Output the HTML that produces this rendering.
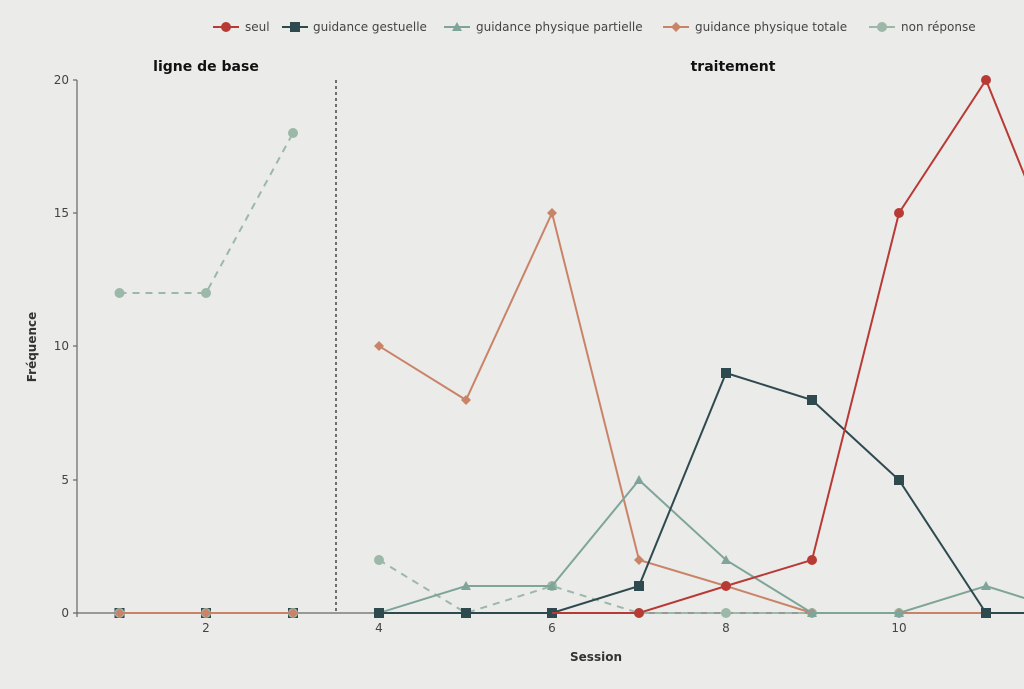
<!DOCTYPE html>
<html><head><meta charset="utf-8"><style>
body{margin:0;background:#ebebea;}
svg{display:block;font-family:"DejaVu Sans","Liberation Sans",sans-serif;}
</style></head><body>
<svg width="1024" height="689" viewBox="0 0 1024 689">
<rect width="1024" height="689" fill="#ebebea"/>
<defs>
<clipPath id="c"><rect x="0" y="0" width="1024" height="689"/></clipPath>
<marker id="mr" markerWidth="10" markerHeight="10" refX="5" refY="5" markerUnits="userSpaceOnUse"><circle cx="5" cy="5" r="5" fill="#b83a35"/></marker>
<marker id="mg" markerWidth="12" markerHeight="12" refX="6" refY="6" markerUnits="userSpaceOnUse"><rect x="1" y="1" width="10" height="10" fill="#2f4a4f"/></marker>
<marker id="mp" markerWidth="12" markerHeight="12" refX="6" refY="6" markerUnits="userSpaceOnUse"><polygon points="6,1 11,10 1,10" fill="#7fa59a"/></marker>
<marker id="mt" markerWidth="12" markerHeight="12" refX="6" refY="6" markerUnits="userSpaceOnUse"><polygon points="6,1 11,6 6,11 1,6" fill="#c98468"/></marker>
<marker id="mn" markerWidth="12" markerHeight="12" refX="6" refY="6" markerUnits="userSpaceOnUse"><circle cx="6" cy="6" r="5" fill="#9bb8a8"/></marker>
</defs>
<!-- axes -->
<line x1="77" y1="80" x2="77" y2="617" stroke="#666" stroke-width="1.2"/>
<line x1="73" y1="613" x2="1024" y2="613" stroke="#666" stroke-width="1.2"/>
<g stroke="#666" stroke-width="1.2">
<line x1="73" y1="80" x2="77" y2="80"/><line x1="73" y1="213" x2="77" y2="213"/><line x1="73" y1="346" x2="77" y2="346"/><line x1="73" y1="480" x2="77" y2="480"/>
<line x1="206" y1="613" x2="206" y2="617"/><line x1="379" y1="613" x2="379" y2="617"/><line x1="552" y1="613" x2="552" y2="617"/><line x1="726" y1="613" x2="726" y2="617"/><line x1="899" y1="613" x2="899" y2="617"/>
</g>
<g font-size="12" fill="#444" text-anchor="end">
<text x="69" y="84">20</text><text x="69" y="217">15</text><text x="69" y="350">10</text><text x="69" y="484">5</text><text x="69" y="617">0</text>
</g>
<g font-size="12" fill="#444" text-anchor="middle">
<text x="206" y="632">2</text><text x="379" y="632">4</text><text x="552" y="632">6</text><text x="726" y="632">8</text><text x="899" y="632">10</text>
</g>
<text x="596" y="661" font-size="12" font-weight="bold" fill="#333" text-anchor="middle">Session</text>
<text transform="translate(36,347) rotate(-90)" font-size="12" font-weight="bold" fill="#333" text-anchor="middle">Fréquence</text>
<text x="206" y="71" font-size="14" font-weight="bold" fill="#111" text-anchor="middle">ligne de base</text>
<text x="733" y="71" font-size="14" font-weight="bold" fill="#111" text-anchor="middle">traitement</text>
<line x1="336" y1="80" x2="336" y2="613" stroke="#444" stroke-width="1.5" stroke-dasharray="3,3"/>
<g fill="none" stroke-width="2" clip-path="url(#c)">
<!-- baseline -->
<polyline points="119.5,613 206,613 293,613" stroke="#2f4a4f" marker-start="url(#mg)" marker-mid="url(#mg)" marker-end="url(#mg)"/>
<polyline points="119.5,613 206,613 293,613" stroke="#c98468" marker-start="url(#mn)" marker-mid="url(#mn)" marker-end="url(#mn)"/>
<polyline points="119.5,613 206,613 293,613" stroke="#c98468" marker-start="url(#mt)" marker-mid="url(#mt)" marker-end="url(#mt)"/>
<polyline points="119.5,293 206,293 293,133" stroke="#9bb8a8" stroke-dasharray="7,6" marker-start="url(#mn)" marker-mid="url(#mn)" marker-end="url(#mn)"/>
<!-- treatment -->
<polyline points="379,560 466,613 552,586 639,613 726,613 812,613 899,613 986,613 1072,613" stroke="#9bb8a8" stroke-dasharray="7,6" marker-start="url(#mn)" marker-mid="url(#mn)"/>
<polyline points="379,346 466,400 552,213 639,560 726,586 812,613 899,613 986,613 1072,613" stroke="#c98468" marker-start="url(#mt)" marker-mid="url(#mt)"/>
<polyline points="379,613 466,586 552,586 639,480 726,560 812,613 899,613 986,586 1072,613" stroke="#7fa59a" marker-start="url(#mp)" marker-mid="url(#mp)"/>
<polyline points="379,613 466,613 552,613 639,586 726,373 812,400 899,480 986,613 1072,613" stroke="#2f4a4f" marker-start="url(#mg)" marker-mid="url(#mg)"/>
<polyline points="552,613 639,613 726,586 812,560 899,213 986,80 1072,293" stroke="#b83a35" marker-mid="url(#mr)"/>
</g>
<!-- legend -->
<g font-size="12" fill="#444" stroke-width="2">
<line x1="213" y1="27" x2="239" y2="27" stroke="#b83a35"/><circle cx="226" cy="27" r="5" fill="#b83a35"/>
<text x="245" y="31">seul</text>
<line x1="282" y1="27" x2="308" y2="27" stroke="#2f4a4f"/><rect x="290" y="22" width="10" height="10" fill="#2f4a4f"/>
<text x="313" y="31">guidance gestuelle</text>
<line x1="444" y1="27" x2="470" y2="27" stroke="#7fa59a"/><polygon points="457,22 462,31 452,31" fill="#7fa59a"/>
<text x="476" y="31">guidance physique partielle</text>
<line x1="663" y1="27" x2="689" y2="27" stroke="#c98468"/><polygon points="676,22 681,27 676,32 671,27" fill="#c98468"/>
<text x="695" y="31">guidance physique totale</text>
<line x1="869" y1="27" x2="895" y2="27" stroke="#9bb8a8"/><circle cx="882" cy="27" r="5" fill="#9bb8a8"/>
<text x="901" y="31">non réponse</text>
</g>
</svg>
</body></html>
